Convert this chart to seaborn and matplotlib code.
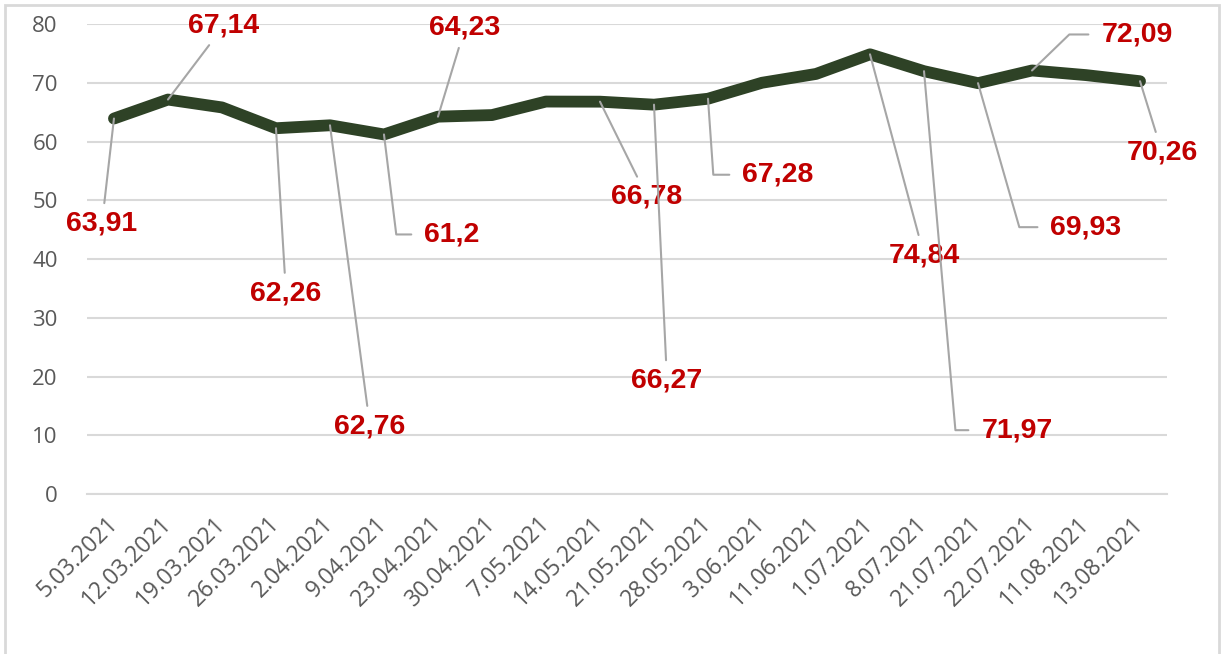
import numpy as np
import pandas as pd
import matplotlib
matplotlib.use("Agg")
import matplotlib.pyplot as plt
from matplotlib.patches import Rectangle
import seaborn as sns

# Data
dates = ["5.03.2021", "12.03.2021", "19.03.2021", "26.03.2021", "2.04.2021",
         "9.04.2021", "23.04.2021", "30.04.2021", "7.05.2021", "14.05.2021",
         "21.05.2021", "28.05.2021", "3.06.2021", "11.06.2021", "1.07.2021",
         "8.07.2021", "21.07.2021", "22.07.2021", "11.08.2021", "13.08.2021"]
values = [63.91, 67.14, 65.8, 62.26, 62.76, 61.2, 64.23, 64.5, 66.8, 66.78,
          66.27, 67.28, 70.0, 71.5, 74.84, 71.97, 69.93, 72.09, 71.3, 70.26]
# indices of points with a data label
labelled = [0, 1, 3, 4, 5, 6, 9, 10, 11, 14, 15, 16, 17, 19]

# label placement (offset in pixels from the point) and leader style
label_offsets = {0: (-12, -105), 1: (56, 74), 3: (10, -165), 4: (40, -301),
                 5: (68, -100), 6: (27, 89), 9: (47, -95), 10: (13, -276),
                 11: (70, -76), 14: (54, -201), 15: (93, -359), 16: (108, -144),
                 17: (105, 36), 19: (22, -71)}
# elbow leaders: angle of the slanted part
elbows = {5: 97, 11: 94, 15: 95, 16: 106, 17: 44}

df = pd.DataFrame({"pos": np.arange(len(dates)), "value": values})

sns.set_style("white")
plt.rcParams["font.family"] = ["Open Sans", "DejaVu Sans"]

fig = plt.figure(figsize=(12.3, 6.54), dpi=100)
ax = fig.add_axes([0.0707, 0.2446, 0.8781, 0.7187])

sns.lineplot(data=df, x="pos", y="value", ax=ax, color="#2E4226",
             linewidth=8.5, solid_capstyle="round", solid_joinstyle="round",
             zorder=3)

ax.set_xlim(-0.5, len(dates) - 0.5)
ax.set_ylim(0, 80)
ax.set_yticks(range(0, 81, 10))
ax.yaxis.grid(True, color="#d9d9d9", linewidth=1.5)
ax.set_axisbelow(True)
for s in ["top", "right", "left"]:
    ax.spines[s].set_visible(False)
ax.spines["bottom"].set_color("#d9d9d9")
ax.spines["bottom"].set_linewidth(1.5)

ax.set_xticks(np.arange(len(dates)))
ax.set_xticklabels(dates, rotation=45, ha="right", va="center",
                   rotation_mode="anchor")
ax.set_xticks(np.arange(-0.5, len(dates)), minor=True)
ax.tick_params(axis="x", which="major", length=0, pad=19,
               labelsize=16.5, labelcolor="#595959")
ax.tick_params(axis="x", which="minor", length=6, width=1.5, color="#d9d9d9")
ax.tick_params(axis="y", length=0, pad=21, labelsize=16, labelcolor="#595959")
ax.set_xlabel("")
ax.set_ylabel("")

for i in labelled:
    dx, dy = label_offsets[i]
    txt = f"{values[i]:g}".replace(".", ",")
    props = dict(arrowstyle="-", color="#a6a6a6", linewidth=1.5,
                 shrinkA=3, shrinkB=0)
    if i in elbows:
        props["relpos"] = (0, 0.5)
        props["connectionstyle"] = f"angle,angleA=0,angleB={elbows[i]},rad=0"
        props["shrinkA"] = 7
    ax.annotate(txt, xy=(i, values[i]), xytext=(dx, dy),
                textcoords="offset pixels", ha="center", va="center",
                fontsize=20.5, fontweight="bold", color="#C00000",
                family=["Liberation Sans", "DejaVu Sans"],
                arrowprops=props, zorder=4)

# outer chart frame (bottom edge runs off the image)
fig.patches.append(Rectangle((0.004, -0.01), 0.987, 1.002,
                             transform=fig.transFigure, fill=False,
                             edgecolor="#d9d9d9", linewidth=2))

fig.savefig("out.png", dpi=100)
